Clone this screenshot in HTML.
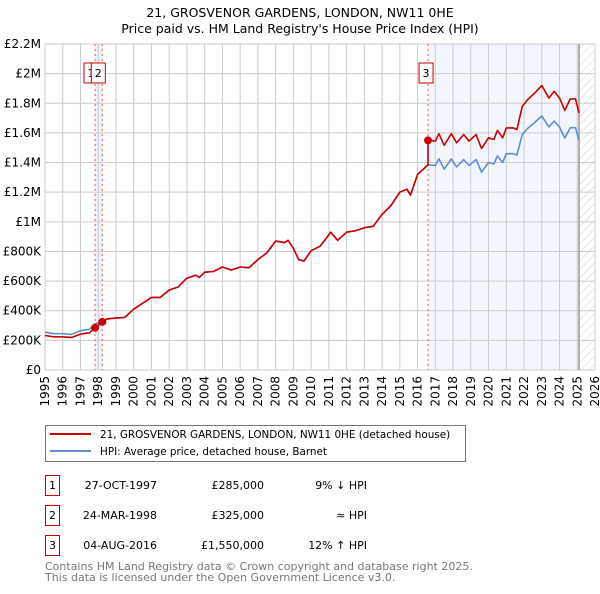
<!DOCTYPE html>
<html><head><meta charset="utf-8"><style>
body{margin:0;background:#fff;font-family:"DejaVu Sans","Liberation Sans",sans-serif;}
svg text{font-family:"DejaVu Sans","Liberation Sans",sans-serif;}
</style></head><body>
<svg id="c" width="600" height="590" xmlns="http://www.w3.org/2000/svg">
<defs><pattern id="hatch" width="6" height="6" patternUnits="userSpaceOnUse" patternTransform="rotate(45)"><line x1="0" y1="0" x2="0" y2="6" stroke="#ccc" stroke-width="1"/></pattern></defs>
<text x="300" y="17" text-anchor="middle" font-size="12.5">21, GROSVENOR GARDENS, LONDON, NW11 0HE</text>
<text x="300" y="33" text-anchor="middle" font-size="12.5">Price paid vs. HM Land Registry's House Price Index (HPI)</text>
<g id="plot"></g>
<rect x="45.5" y="425.5" width="420" height="36" fill="#fff" stroke="#777"/>
<line x1="50" y1="434" x2="91" y2="434" stroke="#cc0000" stroke-width="2"/>
<text x="100" y="438" font-size="10.4">21, GROSVENOR GARDENS, LONDON, NW11 0HE (detached house)</text>
<line x1="50" y1="451" x2="91" y2="451" stroke="#5b8fd4" stroke-width="2"/>
<text x="100" y="455" font-size="10.4">HPI: Average price, detached house, Barnet</text>
<g font-size="11">
<rect x="45.5" y="475.5" width="14" height="20" fill="none" stroke="#cc0000"/><text x="52.5" y="489" text-anchor="middle">1</text>
<text x="157" y="489" text-anchor="end">27-OCT-1997</text><text x="264" y="489" text-anchor="end">£285,000</text><text x="367" y="489" text-anchor="end">9% ↓ HPI</text>
<rect x="45.5" y="505.5" width="14" height="20" fill="none" stroke="#cc0000"/><text x="52.5" y="519" text-anchor="middle">2</text>
<text x="157" y="519" text-anchor="end">24-MAR-1998</text><text x="264" y="519" text-anchor="end">£325,000</text><text x="367" y="519" text-anchor="end">≈ HPI</text>
<rect x="45.5" y="535.5" width="14" height="20" fill="none" stroke="#cc0000"/><text x="52.5" y="549" text-anchor="middle">3</text>
<text x="157" y="549" text-anchor="end">04-AUG-2016</text><text x="264" y="549" text-anchor="end">£1,550,000</text><text x="367" y="549" text-anchor="end">12% ↑ HPI</text>
</g>
<text x="45" y="570" font-size="11" fill="#777">Contains HM Land Registry data © Crown copyright and database right 2025.</text>
<text x="45" y="581" font-size="11" fill="#777">This data is licensed under the Open Government Licence v3.0.</text>
</svg>
<script>
const yearTicks=[1995,1996,1997,1998,1999,2000,2001,2002,2003,2004,2005,2006,2007,2008,2009,2010,2011,2012,2013,2014,2015,2016,2017,2018,2019,2020,2021,2022,2023,2024,2025,2026];
const valueTicks=[0,200000,400000,600000,800000,1000000,1200000,1400000,1600000,1800000,2000000,2200000];
const valueTickLabels=["£0","£200K","£400K","£600K","£800K","£1M","£1.2M","£1.4M","£1.6M","£1.8M","£2M","£2.2M"];
const hpiYears=[1995,1995.5,1996,1996.5,1997,1997.5,1997.82,1998.23,1998.5,1999,1999.5,2000,2000.5,2001,2001.5,2002,2002.5,2003,2003.5,2003.7,2004,2004.5,2005,2005.5,2006,2006.5,2007,2007.5,2008,2008.5,2008.7,2009,2009.3,2009.6,2010,2010.5,2010.8,2011.1,2011.5,2012,2012.5,2013,2013.5,2014,2014.5,2015,2015.4,2015.6,2016,2016.59,2017,2017.2,2017.5,2017.9,2018.2,2018.6,2018.9,2019.3,2019.6,2020,2020.3,2020.5,2020.8,2021,2021.4,2021.6,2021.9,2022.2,2022.6,2023,2023.4,2023.7,2024,2024.3,2024.6,2024.9,2025.1];
const hpiValues=[255000,245000,245000,240000,265000,275000,312000,325000,345000,350000,355000,410000,450000,490000,490000,540000,560000,620000,640000,625000,660000,665000,695000,675000,695000,690000,745000,790000,870000,860000,875000,820000,745000,735000,805000,835000,880000,930000,875000,930000,940000,960000,970000,1050000,1110000,1200000,1220000,1180000,1320000,1385000,1380000,1425000,1355000,1425000,1370000,1420000,1380000,1420000,1335000,1400000,1390000,1445000,1400000,1460000,1460000,1450000,1590000,1630000,1670000,1715000,1640000,1680000,1640000,1565000,1635000,1635000,1550000];
const saleYears=[1997.82,1998.23,2016.59];
const salePrices=[285000,325000,1550000];
const saleLabels=["1","2","3"];
const hpiEnd=2025.1;
const X=y=>45+(y-1995)*(550/31);
const Y=v=>370-v*(326/2200000);
const ns="http://www.w3.org/2000/svg";
const g=document.getElementById('plot');
function mk(t,a,p){const e=document.createElementNS(ns,t);for(const k in a)e.setAttribute(k,a[k]);(p||g).appendChild(e);return e;}
let e=mk('rect',{x:X(saleYears[0]),y:44,width:X(saleYears[1])-X(saleYears[0]),height:326,fill:'#eef3fb'});

e=mk('rect',{x:X(saleYears[2]),y:44,width:X(hpiEnd)-X(saleYears[2]),height:326,fill:'#f3f6fd'});

e=mk('rect',{x:X(hpiEnd),y:44,width:X(2026)-X(hpiEnd),height:326,fill:'url(#hatch)'});

yearTicks.forEach(yr=>{const l=mk('line',{x1:X(yr),x2:X(yr),y1:44,y2:370,stroke:'#cccccc'});

const t=mk('text',{x:0,y:0,'font-size':12,'text-anchor':'end',transform:`translate(${X(yr)+4},376) rotate(-90)`});t.textContent=yr;
});
valueTicks.forEach((v,i)=>{const l=mk('line',{x1:45,x2:595,y1:Y(v),y2:Y(v),stroke:'#cccccc'});

const t=mk('text',{x:41,y:Y(v)+4,'font-size':12,'text-anchor':'end'});t.textContent=valueTickLabels[i];
});
e=mk('line',{x1:X(hpiEnd),x2:X(hpiEnd),y1:44,y2:370,stroke:'#999','stroke-width':1.5});

saleYears.forEach((s,i)=>{const l=mk('line',{x1:X(s),x2:X(s),y1:44,y2:370,stroke:'#ee5566','stroke-dasharray':'2,3'});
});
function hpiAt(t){for(let i=1;i<hpiYears.length;i++){if(t<=hpiYears[i]){const f=(t-hpiYears[i-1])/(hpiYears[i]-hpiYears[i-1]);return hpiValues[i-1]+f*(hpiValues[i]-hpiValues[i-1]);}}return hpiValues[hpiValues.length-1];}
const r=saleYears.map((s,i)=>salePrices[i]/hpiAt(s));
function factor(t){if(t<=saleYears[0])return r[0];if(t<=saleYears[1])return r[0]+(t-saleYears[0])/(saleYears[1]-saleYears[0])*(r[1]-r[0]);if(t<saleYears[2])return r[1];return r[2];}
let hp='',rp='';
hpiYears.forEach((t,i)=>{hp+=(i?'L':'M')+X(t).toFixed(1)+','+Y(hpiValues[i]).toFixed(1);
if(t===saleYears[2])rp+='L'+X(t).toFixed(1)+','+Y(hpiValues[i]*r[1]).toFixed(1);
rp+=(i?'L':'M')+X(t).toFixed(1)+','+Y(hpiValues[i]*factor(t)).toFixed(1);});
e=mk('path',{d:hp,fill:'none',stroke:'#5b8fd4','stroke-width':1.6,'stroke-linejoin':'round'});

e=mk('path',{d:rp,fill:'none',stroke:'#cc0000','stroke-width':1.6,'stroke-linejoin':'round'});

saleYears.forEach((s,i)=>{const c=mk('circle',{cx:X(s),cy:Y(salePrices[i]),r:4,fill:'#cc0000'});

const bxv=i===2?X(s)-9:X(s)-11;
const b=mk('rect',{x:bxv,y:63,width:14,height:20,fill:'#fff',stroke:'#cc0000'});

const t=mk('text',{x:bxv+7,y:77,'font-size':11,'text-anchor':'middle'});t.textContent=saleLabels[i];
});
</script>
</body></html>
